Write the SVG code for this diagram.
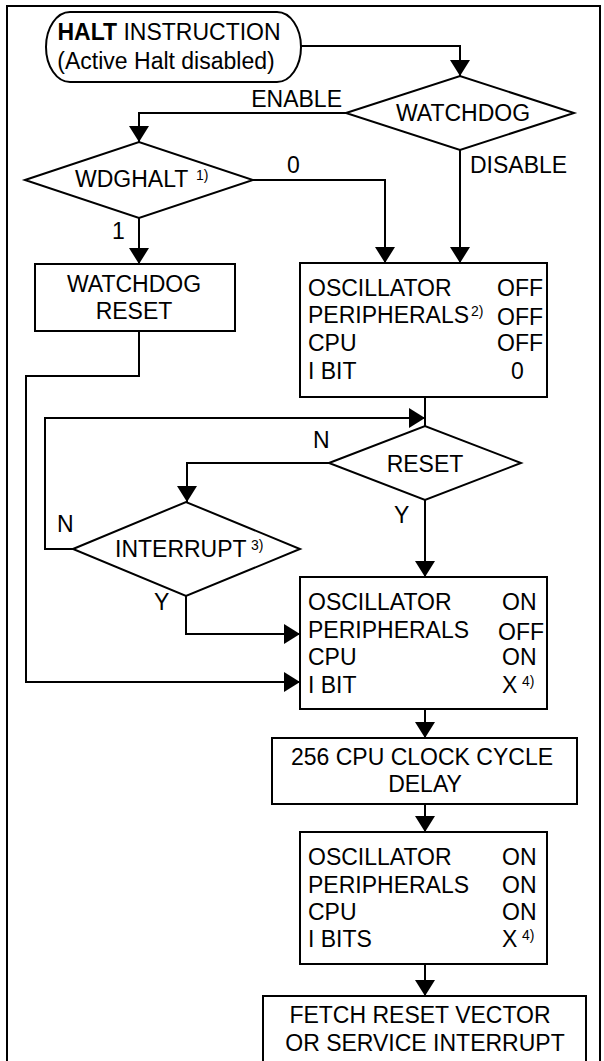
<svg xmlns="http://www.w3.org/2000/svg" width="604" height="1061" viewBox="0 0 604 1061">
<defs>
<style>
.s{fill:#fff;stroke:#000;stroke-width:2}
.c{fill:none;stroke:#000;stroke-width:2}
text{font-family:"Liberation Sans",Arial,Helvetica,sans-serif;font-size:23px;fill:#000}
.m{text-anchor:middle}
.e{text-anchor:end}
.sup{font-size:14px}
</style>
<marker id="a" viewBox="0 0 16 20" refX="16" refY="10" markerWidth="16" markerHeight="20" markerUnits="userSpaceOnUse" orient="auto">
<path d="M0,0 L16,10 L0,20 z" fill="#000"/>
</marker>
</defs>
<rect width="604" height="1061" fill="#fff"/>
<rect x="7" y="6" width="593" height="1100" fill="none" stroke="#000" stroke-width="2"/>

<g id="connectors">
<path class="c" d="M301,46 H460 V76" marker-end="url(#a)"/>
<path class="c" d="M346,113 H139 V142" marker-end="url(#a)"/>
<path class="c" d="M253,180 H385 V263" marker-end="url(#a)"/>
<path class="c" d="M460,150 V263" marker-end="url(#a)"/>
<path class="c" d="M139,218 V264" marker-end="url(#a)"/>
<path class="c" d="M139,331 V376 H26 V682 H300" marker-end="url(#a)"/>
<path class="c" d="M425,397 V426"/>
<path class="c" d="M73,549 H45 V418 H425" marker-end="url(#a)"/>
<path class="c" d="M329,463 H187 V502" marker-end="url(#a)"/>
<path class="c" d="M425,500 V577" marker-end="url(#a)"/>
<path class="c" d="M186,596 V634 H300" marker-end="url(#a)"/>
<path class="c" d="M425,709 V738" marker-end="url(#a)"/>
<path class="c" d="M425,804 V832" marker-end="url(#a)"/>
<path class="c" d="M425,964 V996" marker-end="url(#a)"/>
<text class="e" x="342" y="107">ENABLE</text>
<text x="470" y="173">DISABLE</text>
<text x="287" y="173">0</text>
<text x="112" y="239">1</text>
<text x="313" y="448">N</text>
<text x="57" y="532">N</text>
<text x="394" y="523">Y</text>
<text x="154" y="610">Y</text>
</g>

<g id="start">
<rect class="s" x="46" y="12" width="255" height="70" rx="24" ry="35"/>
<text class="m" x="169" y="40"><tspan font-weight="bold">HALT</tspan> INSTRUCTION</text>
<text class="m" x="166" y="69">(Active Halt disabled)</text>
</g>

<g id="watchdog">
<polygon class="s" points="346,113 460,76 574,113 460,150"/>
<text class="m" x="463" y="121">WATCHDOG</text>
</g>

<g id="wdghalt">
<polygon class="s" points="25,180 139,142 253,180 139,218"/>
<text x="75" y="187">WDGHALT</text>
<text class="sup" x="196" y="180">1)</text>
</g>

<g id="wdgreset">
<rect class="s" x="35" y="264" width="200" height="67"/>
<text class="m" x="134" y="292">WATCHDOG</text>
<text class="m" x="134" y="319">RESET</text>
</g>

<g id="halted">
<rect class="s" x="300" y="263" width="247" height="134"/>
<text x="308" y="296">OSCILLATOR</text>
<text x="308" y="323">PERIPHERALS</text>
<text class="sup" x="471" y="316">2)</text>
<text x="308" y="351">CPU</text>
<text x="308" y="379">I BIT</text>
<text x="497" y="296">OFF</text>
<text x="497" y="325">OFF</text>
<text x="497" y="351">OFF</text>
<text x="511" y="379">0</text>
</g>

<g id="reset">
<polygon class="s" points="329,463 425,426 521,463 425,500"/>
<text class="m" x="425" y="472">RESET</text>
</g>

<g id="interrupt">
<polygon class="s" points="73,549 186,502 300,549 186,596"/>
<text x="115" y="557">INTERRUPT</text>
<text class="sup" x="251" y="550">3)</text>
</g>

<g id="wakeup">
<rect class="s" x="300" y="577" width="247" height="132"/>
<text x="308" y="610">OSCILLATOR</text>
<text x="308" y="638">PERIPHERALS</text>
<text x="308" y="665">CPU</text>
<text x="308" y="693">I BIT</text>
<text x="502" y="610">ON</text>
<text x="498" y="640">OFF</text>
<text x="502" y="665">ON</text>
<text x="502" y="693">X</text>
<text class="sup" x="522" y="686">4)</text>
</g>

<g id="delay">
<rect class="s" x="272" y="738" width="305" height="66"/>
<text class="m" x="422" y="765">256 CPU CLOCK CYCLE</text>
<text class="m" x="425" y="792">DELAY</text>
</g>

<g id="running">
<rect class="s" x="300" y="832" width="247" height="132"/>
<text x="308" y="865">OSCILLATOR</text>
<text x="308" y="893">PERIPHERALS</text>
<text x="308" y="920">CPU</text>
<text x="308" y="947">I BITS</text>
<text x="502" y="865">ON</text>
<text x="502" y="893">ON</text>
<text x="502" y="920">ON</text>
<text x="502" y="947">X</text>
<text class="sup" x="522" y="940">4)</text>
</g>

<g id="fetch">
<rect class="s" x="263" y="996" width="323" height="100"/>
<text class="m" x="420" y="1023">FETCH RESET VECTOR</text>
<text class="m" x="425" y="1051">OR SERVICE INTERRUPT</text>
</g>
</svg>
